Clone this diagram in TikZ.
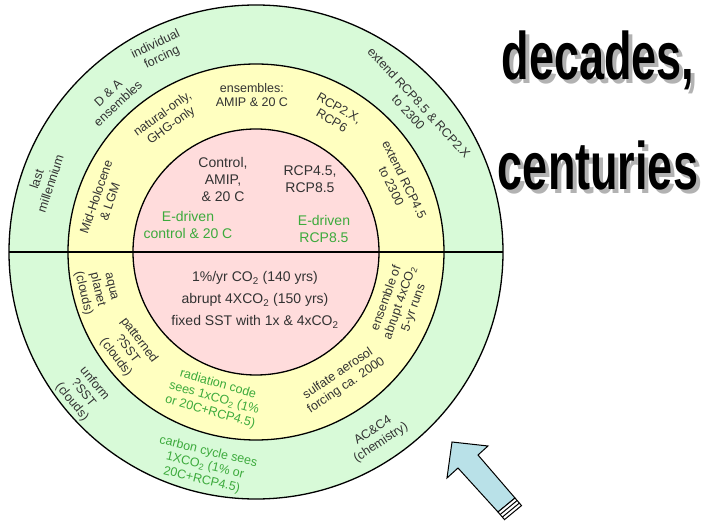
\documentclass[tikz,border=0pt]{standalone}
\usepackage{fontspec}
\setmainfont{Liberation Sans}
\usetikzlibrary{calc}
\definecolor{mint}{RGB}{216,250,216}
\definecolor{lemon}{RGB}{255,255,192}
\definecolor{blush}{RGB}{255,220,220}
\definecolor{leaf}{RGB}{60,170,60}
\definecolor{ink}{RGB}{50,50,50}
\definecolor{sky}{RGB}{185,225,232}
\tikzset{
  ring/.style={draw=black,line width=1.3pt,fill=#1},
  ring/.default=white,
  core/.style={font=\fontsize{14}{17}\selectfont,text=#1,align=center,inner sep=1pt},
  core/.default=ink,
  ringlabel/.style={font=\fontsize{12.5}{14.5}\selectfont,text=#1,align=center,inner sep=1pt},
  ringlabel/.default=ink,
  bigword/.style={font=\fontsize{60}{60}\selectfont\bfseries,xscale=0.75,yscale=1.12,
    anchor=base,inner sep=0pt,text=#1},
  bigword/.default=black,
}

\begin{document}
\begin{tikzpicture}[x=1pt,y=1pt]
  \useasboundingbox (-256,-275) rectangle (454,252);
  % rings
  \coordinate (c) at (0,0);
  \draw[ring=mint] (c) circle (247);
  \draw[ring=lemon] (c) circle (188);
  \draw[ring=blush] (c) circle (123);
  \coordinate (west) at (180:247);
  \coordinate (east) at (0:247);
  \draw[line width=1.6pt] (west) -- (east);
  % core
  \node[core] (ctrl) at (-33,73) {Control,\\AMIP,\\\& 20 C};
  \node[core] (rcp) at (54,73) {RCP4.5,\\RCP8.5};
  \node[core=leaf] (edctrl) at (-68,27) {E-driven\\control \& 20 C};
  \node[core=leaf] (edrcp) at (68,23) {E-driven\\RCP8.5};
  \node[core,font=\fontsize{14}{22}\selectfont] (co2) at (-1,-48)
    {1\%/yr CO\textsubscript{2} (140 yrs)\\abrupt 4XCO\textsubscript{2} (150 yrs)\\fixed SST with 1x \& 4xCO\textsubscript{2}};
  % yellow ring
  \foreach \a/\r/\rot/\col/\txt [count=\i] in {
      91.5/157/0/ink/{ensembles:\\AMIP \& 20 C},
      124/159/36/ink/{natural-only,\\GHG-only},
      161/162/71/ink/{Mid-Holocene\\\& LGM},
      60/159/-30/ink/{RCP2.X,\\RCP6},
      26/158/-64/ink/{extend RCP4.5\\to 2300},
      -19.5/153/70.5/ink/{ensemble of\\abrupt 4xCO\textsubscript{2}\\5-yr runs},
      -56/154/34/ink/{sulfate aerosol\\forcing ca. 2000},
      -106/152/-16/leaf/{radiation code\\sees 1xCO\textsubscript{2} (1\%\\or 20C+RCP4.5)},
      -143/161/-53/ink/{patterned\\?SST\\(clouds)},
      -166.6/164/-76.6/ink/{aqua\\planet\\(clouds)}}
    \node[ringlabel=\col,rotate=\rot] (mid\i) at (\a:\r) {\txt};
  % green ring
  \foreach \a/\r/\rot/\col/\txt [count=\i] in {
      115.8/223/25.8/ink/{individual\\forcing},
      132.9/210/42.9/ink/{D \& A\\ensembles},
      161.6/224/71.6/ink/{last\\millennium},
      42.5/214/-47.5/ink/{extend RCP8.5 \& RCP2.X\\to 2300},
      -56.8/221/33.2/ink/{AC\&C4\\(chemistry)},
      -103.4/220/-13.4/leaf/{carbon cycle sees\\1XCO\textsubscript{2} (1\% or\\20C+RCP4.5)},
      -140.8/223/-50.8/ink/{unform\\?SST\\(clouds)}}
    \node[ringlabel=\col,rotate=\rot] (out\i) at (\a:\r) {\txt};
  % big words
  \node[bigword=black!30] (decshadow) at (346,168) {decades,};
  \node[bigword] (decades) at (342,172) {decades,};
  \node[bigword=black!30] (censhadow) at (346,58) {centuries};
  \node[bigword] (centuries) at (342,62) {centuries};
  % arrow
  \coordinate (tip) at (196,-190);
  \coordinate (rwing) at (232,-194);
  \coordinate (rtop) at (222,-203);
  \coordinate (rbot) at (259,-246);
  \coordinate (rend) at (265.5,-253.6);
  \coordinate (lend) at (248.5,-267.6);
  \coordinate (lbot) at (242,-260);
  \coordinate (ltop) at (202,-216);
  \coordinate (lwing) at (191,-226);
  \filldraw[fill=sky,draw=black,line width=1pt,line join=miter]
    (tip) -- (rwing) -- (rtop) -- (rbot) -- (lbot) -- (ltop) -- (lwing) -- cycle;
  \filldraw[fill=white,draw=black,line width=1pt] (rbot) -- (rend) -- (lend) -- (lbot) -- cycle;
  \foreach \f in {0.33,0.67}
    \draw[line width=1pt] ($(rbot)!\f!(rend)$) -- ($(lbot)!\f!(lend)$);
\end{tikzpicture}
\end{document}
